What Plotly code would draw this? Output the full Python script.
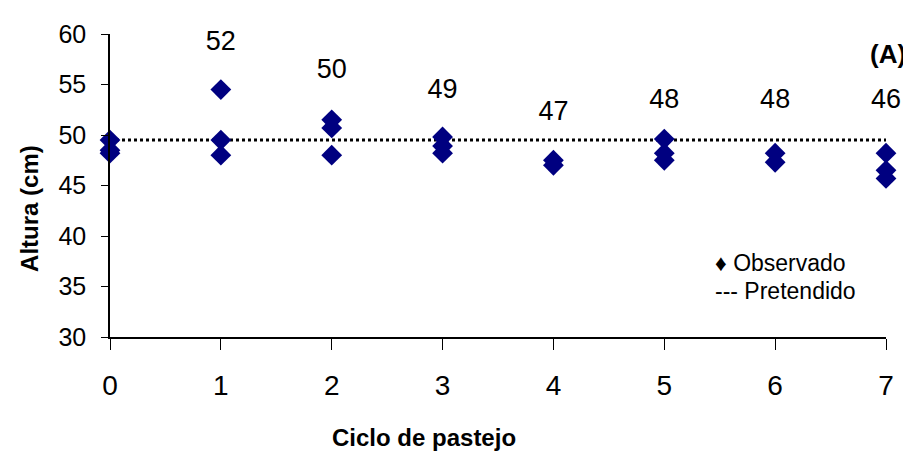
import plotly.graph_objects as go

# Data
ciclo_obs = [0, 0, 0, 1, 1, 1, 2, 2, 2, 3, 3, 3, 4, 4, 5, 5, 5, 6, 6, 7, 7, 7]
altura_obs = [49.5, 48.5, 48.2, 54.5, 49.5, 48.0, 51.5, 50.7, 48.0,
              49.8, 48.9, 48.2, 47.5, 47.0, 49.6, 48.2, 47.5, 48.2, 47.3,
              48.2, 46.5, 45.7]
ciclos = [0, 1, 2, 3, 4, 5, 6, 7]
pretendido = [49.5] * len(ciclos)
media_x = [1, 2, 3, 4, 5, 6, 7]
media_labels = ["52", "50", "49", "47", "48", "48", "46"]
media_label_y = [59.1, 56.3, 54.3, 52.2, 53.3, 53.3, 53.3]
legend_labels = ["\u2666 Observado", "--- Pretendido"]

FONT = "Liberation Sans, Arial, sans-serif"

fig = go.Figure()
fig.add_trace(go.Scatter(
    x=ciclos, y=pretendido, mode="lines", name="Pretendido",
    line=dict(color="black", width=3, dash="dot"),
    cliponaxis=False, showlegend=False,
))
fig.add_trace(go.Scatter(
    x=ciclo_obs, y=altura_obs, mode="markers", name="Observado",
    marker=dict(symbol="diamond", size=16, color="#000080"),
    cliponaxis=False, showlegend=False,
))
fig.add_trace(go.Scatter(
    x=media_x, y=media_label_y, mode="text", text=media_labels,
    textfont=dict(family=FONT, size=27, color="black"),
    showlegend=False, hoverinfo="skip", cliponaxis=False,
))

# "(A)" panel label
fig.add_annotation(
    x=1, y=1, xref="paper", yref="paper", xanchor="right", yanchor="middle",
    text="<b>(A)</b>", showarrow=False, xshift=22, yshift=-20,
    font=dict(family=FONT, size=26, color="black"),
)

# Legend drawn as text, as in the original
for lbl, ly in zip(legend_labels, [0.2436, 0.1506]):
    fig.add_annotation(
        x=0.777, y=ly, xref="paper", yref="paper", xanchor="left", yanchor="middle",
        text=lbl, showarrow=False,
        font=dict(family=FONT, size=23, color="black"),
    )

# Axis titles (placed off-centre as in the original)
fig.add_annotation(
    x=0.405, y=-0.333, xref="paper", yref="paper", xanchor="center", yanchor="middle",
    text="<b>Ciclo de pastejo</b>", showarrow=False,
    font=dict(family=FONT, size=24, color="black"),
)
fig.add_annotation(
    x=-0.103, y=0.423, xref="paper", yref="paper", xanchor="center", yanchor="middle",
    text="<b>Altura (cm)</b>", showarrow=False, textangle=-90,
    font=dict(family=FONT, size=24, color="black"),
)

fig.update_layout(
    width=903, height=451,
    margin=dict(l=102, r=25, t=17, b=122),
    paper_bgcolor="white", plot_bgcolor="white",
    font=dict(family=FONT, color="black"),
    showlegend=False,
    xaxis=dict(
        range=[0, 7], tickmode="array", tickvals=ciclos,
        ticks="outside", ticklen=11, tickcolor="black", tickwidth=1,
        showline=True, linecolor="black", linewidth=1.5,
        showgrid=False, zeroline=False,
        tickfont=dict(family=FONT, size=28, color="black"),
        ticklabelstandoff=12,
    ),
    yaxis=dict(
        range=[30, 60], tickmode="array", tickvals=[30, 35, 40, 45, 50, 55, 60],
        ticks="outside", ticklen=7, tickcolor="black", tickwidth=1,
        showline=True, linecolor="black", linewidth=1.5,
        showgrid=False, zeroline=False,
        tickfont=dict(family=FONT, size=25, color="black"),
        ticklabelstandoff=10,
    ),
)

fig.write_html("out.html")
